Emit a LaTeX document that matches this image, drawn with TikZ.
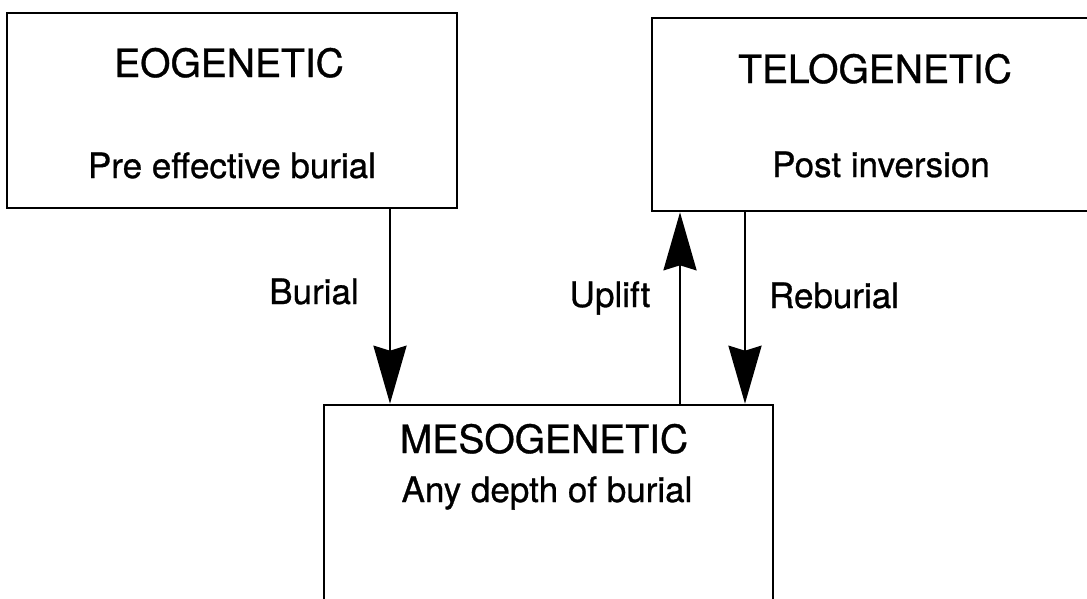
\documentclass[tikz,border=0pt]{standalone}
\usepackage{fontspec}
\setmainfont[UprightFeatures={FakeBold=0.8}]{TeX Gyre Heros}
\usetikzlibrary{arrows.meta}
\begin{document}
\begin{tikzpicture}[x=1pt,y=-1pt,
  box/.style={draw,line width=2.6pt,inner sep=0pt,rectangle},
  ttl/.style={font=\fontsize{39}{44}\selectfont,anchor=base,inner sep=0pt},
  sub/.style={font=\fontsize{35}{40}\selectfont,anchor=base,inner sep=0pt},
  lbl/.style={font=\fontsize{35}{40}\selectfont,anchor=base,inner sep=0pt},
  arr/.style={line width=2.6pt,-{Stealth[length=58pt,width=33pt,inset=5pt]}}]
\useasboundingbox (0,0) rectangle (1087,598);
\clip (0,0) rectangle (1087,598);
% boxes
\node[box,minimum width=450pt,minimum height=195pt] (eo) at (232,110.5) {};
\node[box,minimum width=458pt,minimum height=193pt] (telo) at (881,114.5) {};
\node[box,minimum width=449pt,minimum height=235pt] (meso) at (548.5,522.5) {};
% texts
\node[ttl] (eot) at (229,77) {EOGENETIC};
\node[sub] (eos) at (232,178) {Pre effective burial};
\node[ttl] (telot) at (875,83) {TELOGENETIC};
\node[sub] (telos) at (881,177) {Post inversion};
\node[ttl] (mesot) at (544,453) {MESOGENETIC};
\node[sub] (mesos) at (547,502) {Any depth of burial};
% connector x positions
\coordinate (bur) at (390,0);
\coordinate (upl) at (680,0);
\coordinate (rebur) at (745,0);
\draw[arr] (eo.south -| bur) -- (meso.north -| bur);
\draw[arr] (meso.north -| upl) -- (telo.south -| upl);
\draw[arr] (telo.south -| rebur) -- (meso.north -| rebur);
% labels
\node[lbl] (lbur) at (314,304) {Burial};
\node[lbl] (lupl) at (610,307) {Uplift};
\node[lbl] (lreb) at (834,308) {Reburial};
\end{tikzpicture}
\end{document}
